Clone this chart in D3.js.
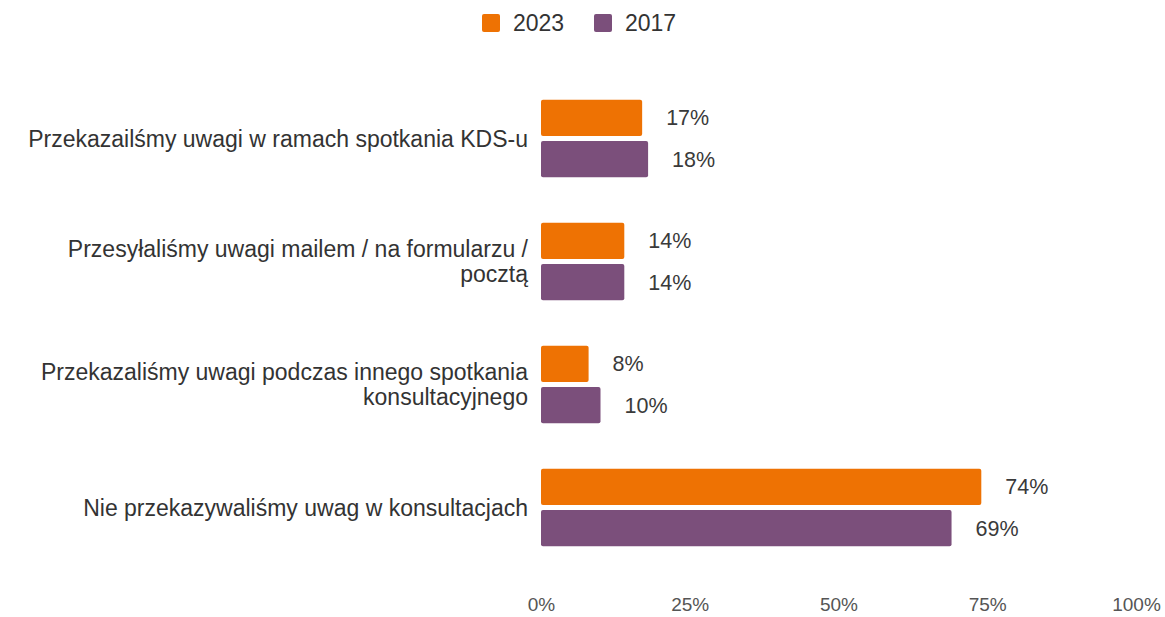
<!DOCTYPE html>
<html><head><meta charset="utf-8">
<script src="https://cdn.jsdelivr.net/npm/d3@7"></script>
<style>body{margin:0;background:#fff}svg{display:block}text{font-family:"Liberation Sans",Arial,sans-serif}</style>
</head><body>
<svg id="c" width="1165" height="617"></svg>
<script>
const categories = [
  ["Przekazailśmy uwagi w ramach spotkania KDS-u"],
  ["Przesyłaliśmy uwagi mailem / na formularzu /", "pocztą"],
  ["Przekazaliśmy uwagi podczas innego spotkania", "konsultacyjnego"],
  ["Nie przekazywaliśmy uwag w konsultacjach"]
];
const seriesNames = ["2023", "2017"];
const values2023 = [17, 14, 8, 74];
const values2017 = [18, 14, 10, 69];
const tickValues = [0, 25, 50, 75, 100];
const colors = ["#EE7203", "#7B4F7B"];

const svg = d3.select("#c");
const x = d3.scaleLinear().domain([0, 100]).range([541, 1136]);
const y = d3.scaleBand().domain(d3.range(categories.length)).range([77, 569]).paddingInner(0.37).paddingOuter(0.185);
const yi = d3.scaleBand().domain(seriesNames).range([0, y.bandwidth()]).paddingInner(0.12);

const series = [values2023, values2017];
categories.forEach((cat, i) => {
  const g = svg.append("g").attr("transform", `translate(0,${y(i)})`);
  series.forEach((vals, s) => {
    const name = seriesNames[s];
    g.append("rect").attr("x", x(0)).attr("y", yi(name))
      .attr("width", x(vals[i]) - x(0)).attr("height", yi.bandwidth())
      .attr("rx", 2).attr("fill", colors[s]);
    g.append("text").attr("x", x(vals[i]) + 24).attr("y", yi(name) + yi.bandwidth()/2)
      .attr("dy", "0.35em").attr("font-size", 21.5).attr("fill", "#3a3a3a").text(vals[i] + "%");
  });
  const cy = y(i) + y.bandwidth()/2;
  const lh = 24.5;
  cat.forEach((line, k) => {
    svg.append("text").attr("x", 528).attr("y", cy + (k - (cat.length-1)/2) * lh)
      .attr("dy", "0.35em").attr("text-anchor", "end").attr("font-size", 23).attr("fill", "#333").text(line);
  });
});

const axis = d3.axisBottom(x).tickValues(tickValues).tickFormat(d => d + "%").tickSize(0).tickPadding(0);
const ag = svg.append("g").attr("transform", "translate(0,597)").call(axis);
ag.select(".domain").remove();
ag.selectAll("text").attr("font-size", 19).attr("fill", "#555").attr("font-family", "Liberation Sans, Arial, sans-serif");

// legend
const leg = svg.append("g");
const legX = [482, 594];
seriesNames.forEach((n, s) => {
  leg.append("rect").attr("x", legX[s]).attr("y", 14).attr("width", 18).attr("height", 18).attr("rx", 2).attr("fill", colors[s]);
  leg.append("text").attr("x", legX[s] + 31).attr("y", 23).attr("dy", "0.35em").attr("font-size", 23).attr("fill", "#333").text(n);
});
</script>
</body></html>
